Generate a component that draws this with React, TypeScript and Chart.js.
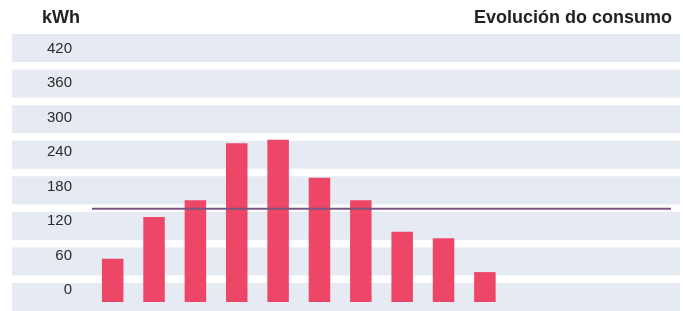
import { useEffect, useRef } from "react";
import { Chart, registerables } from "chart.js";

Chart.register(...registerables);

const periods = ["1", "2", "3", "4", "5", "6", "7", "8", "9", "10", "11", "12", "13", "14"];
const consumption = [75, 148, 177, 276, 282, 216, 177, 122, 111, 52, null, null, null, null];
const averageConsumption = 162;
const yTickValues = [0, 60, 120, 180, 240, 300, 360, 420];
const unitLabel = "kWh";
const chartTitle = "Evolución do consumo";

const FONT = "'Liberation Sans', Arial, Helvetica, sans-serif";

const bandsPlugin = {
  id: "bands",
  beforeDraw(chart: any) {
    const { ctx, chartArea } = chart;
    const top = chartArea.top;
    const bottom = chart.height;
    const n = yTickValues.length;
    const gap = 7.6;
    const period = (bottom - top + gap) / n;
    ctx.save();
    ctx.fillStyle = "#E6EAF3";
    for (let i = 0; i < n; i++) {
      ctx.fillRect(12, top + i * period, chart.width - 3 - 12, period - gap);
    }
    ctx.restore();
  },
};

const averagePlugin = {
  id: "averageLine",
  afterDatasetsDraw(chart: any) {
    const { ctx, chartArea } = chart;
    const y = chart.scales.y.getPixelForValue(averageConsumption);
    ctx.save();
    ctx.strokeStyle = "#7A5583";
    ctx.lineWidth = 2;
    ctx.beginPath();
    ctx.moveTo(chartArea.left, y);
    ctx.lineTo(chartArea.right, y);
    ctx.stroke();
    ctx.restore();
  },
};

const titlesPlugin = {
  id: "titles",
  afterDraw(chart: any) {
    const { ctx, chartArea } = chart;
    ctx.save();
    ctx.fillStyle = "#222222";
    ctx.font = `bold 18px ${FONT}`;
    ctx.textBaseline = "alphabetic";
    ctx.textAlign = "left";
    ctx.fillText(unitLabel, 42, 23);
    ctx.textAlign = "right";
    ctx.fillText(chartTitle, chartArea.right + 1, 23);
    ctx.restore();
  },
};

export default function App() {
  const canvasRef = useRef<HTMLCanvasElement | null>(null);

  useEffect(() => {
    if (!canvasRef.current) return;
    const chart = new Chart(canvasRef.current, {
      type: "bar",
      data: {
        labels: periods,
        datasets: [
          {
            label: "Consumo",
            data: consumption,
            backgroundColor: "#EE4667",
            borderWidth: 0,
            barPercentage: 0.52,
            categoryPercentage: 1,
          },
        ],
      },
      options: {
        animation: false,
        responsive: false,
        maintainAspectRatio: false,
        layout: { padding: { top: 34, bottom: 9, left: 0, right: 12 } },
        plugins: {
          legend: { display: false },
          tooltip: { enabled: false },
          title: { display: false },
        },
        scales: {
          x: {
            type: "category",
            display: false,
            offset: true,
            grid: { display: false },
          },
          y: {
            type: "linear",
            min: 0,
            max: 466,
            grid: { display: false },
            border: { display: false },
            afterFit: (scale: any) => {
              scale.width = 92;
              scale.paddingTop = 0;
              scale.paddingBottom = 0;
            },
            afterBuildTicks: (scale: any) => {
              scale.ticks = yTickValues.map((v) => ({ value: v }));
            },
            ticks: {
              padding: 12,
              labelOffset: -12,
              color: "#2B2B2B",
              font: { family: FONT, size: 15 },
            },
          },
        },
      },
      plugins: [bandsPlugin, averagePlugin, titlesPlugin],
    });
    return () => chart.destroy();
  }, []);

  return (
    <div style={{ position: "fixed", left: 0, top: 0, width: 683, height: 311, background: "#FFFFFF" }}>
      <canvas ref={canvasRef} width={683} height={311} style={{ display: "block" }} />
    </div>
  );
}
